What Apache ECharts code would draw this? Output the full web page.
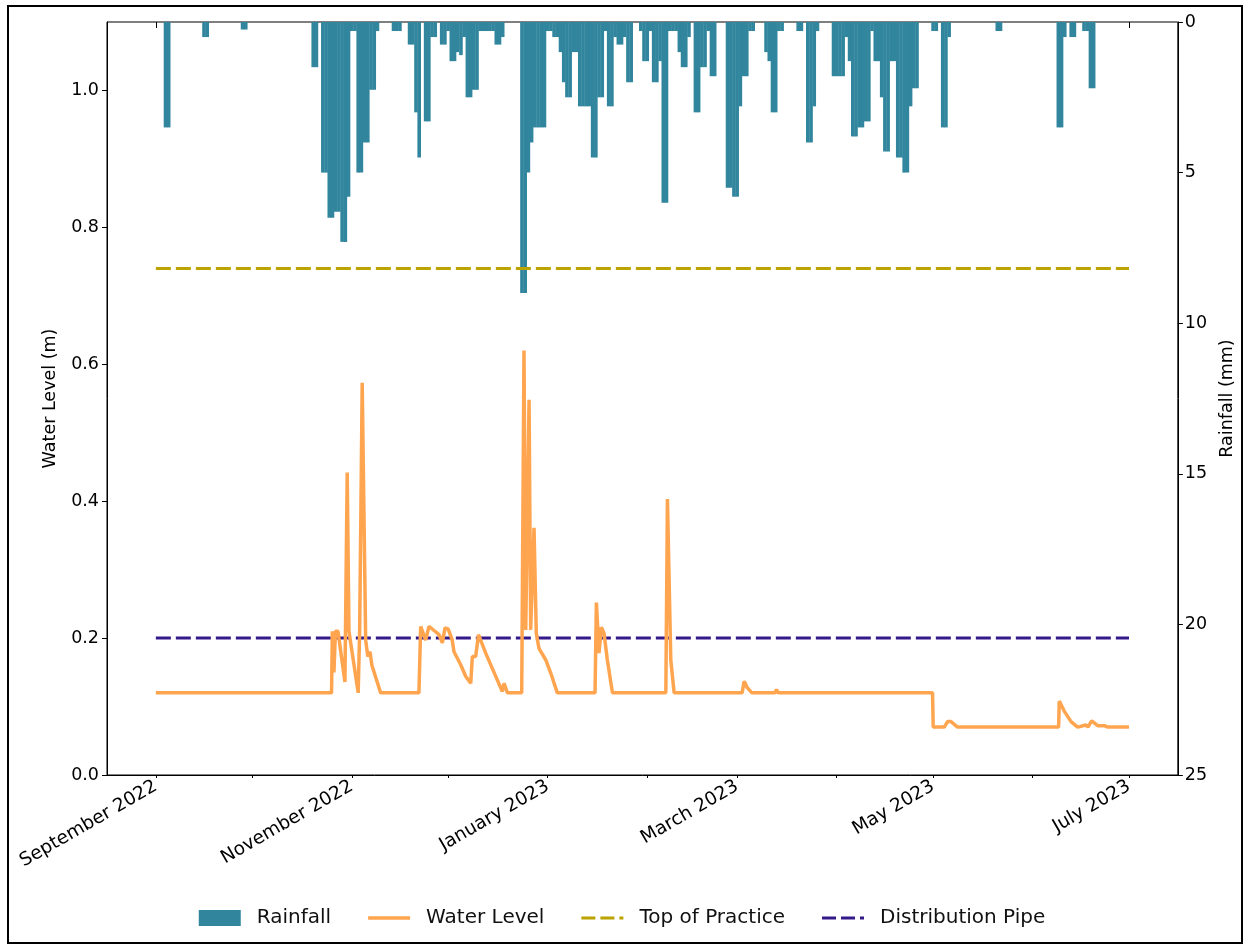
<!DOCTYPE html>
<html>
<head>
<meta charset="utf-8">
<script src="https://cdn.jsdelivr.net/npm/echarts@6/dist/echarts.min.js"></script>
<style>
  html, body { margin: 0; padding: 0; background: #fff; }
  #chart { width: 1244px; height: 945px; }
</style>
</head>
<body>
<div id="chart"></div>
<script>
// daily rainfall (mm), only the days with rain
const rainDates = [
  "2022-09-04", "2022-09-05", "2022-09-16", "2022-09-17", "2022-09-28", "2022-09-29",
  "2022-10-20", "2022-10-21", "2022-10-23", "2022-10-24", "2022-10-25", "2022-10-26",
  "2022-10-27", "2022-10-28", "2022-10-29", "2022-10-30", "2022-10-31",
  "2022-11-01", "2022-11-02", "2022-11-03", "2022-11-04", "2022-11-05", "2022-11-06",
  "2022-11-07", "2022-11-08", "2022-11-09", "2022-11-14", "2022-11-15", "2022-11-16",
  "2022-11-19", "2022-11-20", "2022-11-21", "2022-11-22", "2022-11-24", "2022-11-25",
  "2022-11-26", "2022-11-27", "2022-11-29", "2022-11-30",
  "2022-12-01", "2022-12-02", "2022-12-03", "2022-12-04", "2022-12-05", "2022-12-06",
  "2022-12-07", "2022-12-08", "2022-12-09", "2022-12-10", "2022-12-11", "2022-12-12",
  "2022-12-13", "2022-12-14", "2022-12-15", "2022-12-16", "2022-12-17", "2022-12-18",
  "2022-12-24", "2022-12-25", "2022-12-26", "2022-12-27", "2022-12-28", "2022-12-29",
  "2022-12-30", "2022-12-31",
  "2023-01-01", "2023-01-02", "2023-01-03", "2023-01-04", "2023-01-05", "2023-01-06",
  "2023-01-07", "2023-01-08", "2023-01-09", "2023-01-10", "2023-01-11", "2023-01-12",
  "2023-01-13", "2023-01-14", "2023-01-15", "2023-01-16", "2023-01-17", "2023-01-18",
  "2023-01-19", "2023-01-20", "2023-01-21", "2023-01-22", "2023-01-23", "2023-01-24",
  "2023-01-25", "2023-01-26", "2023-01-27", "2023-01-30", "2023-01-31",
  "2023-02-01", "2023-02-02", "2023-02-03", "2023-02-04", "2023-02-05", "2023-02-06",
  "2023-02-07", "2023-02-08", "2023-02-09", "2023-02-10", "2023-02-11", "2023-02-12",
  "2023-02-13", "2023-02-14", "2023-02-16", "2023-02-17", "2023-02-18", "2023-02-19",
  "2023-02-20", "2023-02-21", "2023-02-22", "2023-02-26", "2023-02-27", "2023-02-28",
  "2023-03-01", "2023-03-02", "2023-03-03", "2023-03-04", "2023-03-05", "2023-03-06",
  "2023-03-10", "2023-03-11", "2023-03-12", "2023-03-13", "2023-03-14", "2023-03-15",
  "2023-03-20", "2023-03-21", "2023-03-23", "2023-03-24", "2023-03-25", "2023-03-26",
  "2023-03-31",
  "2023-04-01", "2023-04-02", "2023-04-03", "2023-04-04", "2023-04-05", "2023-04-06",
  "2023-04-07", "2023-04-08", "2023-04-09", "2023-04-10", "2023-04-11", "2023-04-12",
  "2023-04-13", "2023-04-14", "2023-04-15", "2023-04-16", "2023-04-17", "2023-04-18",
  "2023-04-19", "2023-04-20", "2023-04-21", "2023-04-22", "2023-04-23", "2023-04-24",
  "2023-04-25", "2023-04-26",
  "2023-05-01", "2023-05-02", "2023-05-04", "2023-05-05", "2023-05-06", "2023-05-21",
  "2023-05-22",
  "2023-06-09", "2023-06-10", "2023-06-11", "2023-06-13", "2023-06-14", "2023-06-17",
  "2023-06-18", "2023-06-19", "2023-06-20"
];
const rainMm = [
  3.5, 3.5, 0.5, 0.5, 0.25, 0.25,
  1.5, 1.5, 5.0, 5.0, 6.5, 6.5,
  6.3, 6.3, 7.3, 7.3, 5.8,
  0.3, 0.3, 5.0, 5.0, 4.0, 4.0,
  2.25, 2.25, 0.3, 0.3, 0.3, 0.3,
  0.75, 0.75, 3.0, 4.5, 3.3, 3.3,
  0.5, 0.5, 0.75, 0.75,
  0.3, 1.3, 1.3, 1.0, 1.1, 0.5,
  2.5, 2.5, 2.25, 2.25, 0.3, 0.3,
  0.3, 0.3, 0.3, 0.75, 0.75, 0.5,
  9.0, 9.0, 5.0, 4.0, 3.5, 3.5,
  3.5, 3.5,
  0.3, 0.3, 0.5, 0.5, 1.0, 2.0,
  2.5, 2.5, 1.0, 1.0, 2.8, 2.8,
  2.8, 2.8, 4.5, 4.5, 2.5, 2.5,
  0.3, 2.8, 2.8, 0.5, 0.75, 0.75,
  0.5, 2.0, 2.0, 0.3, 1.3,
  1.3, 0.3, 2.0, 2.0, 1.3, 6.0,
  6.0, 0.3, 0.3, 0.3, 1.0, 1.5,
  1.5, 0.5, 3.0, 3.0, 1.5, 1.5,
  0.3, 1.8, 1.8, 5.5, 5.5, 5.8,
  5.8, 2.8, 1.8, 1.8, 0.3, 0.3,
  1.0, 1.3, 3.0, 3.0, 0.3, 0.3,
  0.3, 0.3, 4.0, 4.0, 2.8, 0.3,
  1.8,
  1.8, 1.8, 1.8, 0.5, 1.3, 3.8,
  3.8, 3.5, 3.5, 3.3, 3.3, 0.3,
  1.3, 1.3, 2.5, 4.3, 4.3, 1.3,
  1.3, 4.5, 4.5, 5.0, 5.0, 2.8,
  2.2, 2.2,
  0.3, 0.3, 3.5, 3.5, 0.5, 0.3,
  0.3,
  3.5, 3.5, 0.5, 0.5, 0.5, 0.3,
  0.3, 2.2, 2.2
];

// water level (m)
const levelTimes = [
  "2022-09-01 00:00", "2022-10-25 17:00", "2022-10-25 23:00", "2022-10-26 11:00",
  "2022-10-26 22:00", "2022-10-27 17:00", "2022-10-29 21:00", "2022-10-30 14:00",
  "2022-10-31 03:00", "2022-11-03 00:00", "2022-11-03 11:00", "2022-11-04 06:00",
  "2022-11-05 08:00", "2022-11-06 00:00", "2022-11-06 16:00", "2022-11-07 07:00",
  "2022-11-10 00:00", "2022-11-21 22:00", "2022-11-22 11:00", "2022-11-24 00:00",
  "2022-11-25 01:00", "2022-11-26 22:00", "2022-11-28 04:00", "2022-11-29 05:00",
  "2022-11-30 01:00", "2022-12-01 01:00", "2022-12-02 07:00", "2022-12-02 20:00",
  "2022-12-04 22:00", "2022-12-06 12:00", "2022-12-08 01:00", "2022-12-08 13:00",
  "2022-12-09 14:00", "2022-12-10 11:00", "2022-12-12 17:00", "2022-12-15 20:00",
  "2022-12-17 21:00", "2022-12-18 10:00", "2022-12-19 11:00", "2022-12-23 22:00",
  "2022-12-24 15:00", "2022-12-25 04:00", "2022-12-26 05:00", "2022-12-26 17:00",
  "2022-12-27 18:00", "2022-12-28 11:00", "2022-12-29 07:00", "2022-12-31 10:00",
  "2023-01-01 23:00", "2023-01-04 00:00", "2023-01-15 18:00", "2023-01-16 04:00",
  "2023-01-17 00:00", "2023-01-17 17:00", "2023-01-18 13:00", "2023-01-19 14:00",
  "2023-01-21 04:00", "2023-02-06 19:00", "2023-02-07 07:00", "2023-02-08 08:00",
  "2023-02-09 09:00", "2023-03-02 13:00", "2023-03-03 04:00", "2023-03-04 02:00",
  "2023-03-05 14:00", "2023-03-12 19:00", "2023-03-13 06:00", "2023-03-13 19:00",
  "2023-04-30 20:00", "2023-05-01 01:00", "2023-05-04 12:00", "2023-05-05 12:00",
  "2023-05-06 14:00", "2023-05-08 15:00", "2023-06-09 02:00", "2023-06-09 07:00",
  "2023-06-10 21:00", "2023-06-12 23:00", "2023-06-15 00:00", "2023-06-17 15:00",
  "2023-06-18 05:00", "2023-06-19 09:00", "2023-06-21 06:00", "2023-06-23 08:00",
  "2023-06-24 09:00", "2023-07-01 00:00"
];
const levelValues = [
  0.12, 0.12, 0.21, 0.15,
  0.21, 0.21, 0.136, 0.442,
  0.21, 0.12, 0.21, 0.573,
  0.197, 0.173, 0.18, 0.16,
  0.12, 0.12, 0.217, 0.197,
  0.217, 0.21, 0.205, 0.193,
  0.215, 0.213, 0.197, 0.18,
  0.161, 0.144, 0.134, 0.173,
  0.173, 0.205, 0.178, 0.144,
  0.122, 0.134, 0.12, 0.12,
  0.62, 0.212, 0.548, 0.212,
  0.361, 0.207, 0.185, 0.168,
  0.149, 0.12, 0.12, 0.252,
  0.178, 0.216, 0.207, 0.168,
  0.12, 0.12, 0.403, 0.168,
  0.12, 0.12, 0.137, 0.128,
  0.12, 0.12, 0.125, 0.12,
  0.12, 0.07, 0.07, 0.078,
  0.078, 0.07, 0.07, 0.108,
  0.093, 0.078, 0.07, 0.073,
  0.07, 0.079, 0.072, 0.072,
  0.07, 0.07
];

const topOfPractice = 0.74;
const distributionPipe = 0.2;
const lineSpan = ["2022-09-01 00:00", "2023-07-01 00:00"];

const levelTicks = [0, 0.2, 0.4, 0.6, 0.8, 1.0];
const majorMonths = ["2022-09-01", "2022-11-01", "2023-01-01", "2023-03-01", "2023-05-01", "2023-07-01"];
const allMonths = ["2022-09-01", "2022-10-01", "2022-11-01", "2022-12-01", "2023-01-01", "2023-02-01",
  "2023-03-01", "2023-04-01", "2023-05-01", "2023-06-01", "2023-07-01"];
const monthNames = ["January", "February", "March", "April", "May", "June", "July",
  "August", "September", "October", "November", "December"];

const toTime = (s) => +new Date(s.length > 10 ? s.replace(" ", "T") + ":00" : s + "T00:00:00");
const xMin = toTime("2022-08-16 19:00");
const xMax = toTime("2023-07-16 05:00");

const FONT = "DejaVu Sans";
const INK = "#000";
const TICK_SIZE = 17.5;

// legend swatches: thin solid / dashed strokes inside a 42x16 box
const solidIcon = "path://M0,0L0.01,0M0,16L0.01,16M0,6.3H42V9.7H0Z";
const dashIcon = "path://M0,0L0.01,0M0,16L0.01,16M0,6.5H14V9.5H0ZM19,6.5H33V9.5H19ZM38,6.5H42V9.5H38Z";

const chart = echarts.init(document.getElementById("chart"));

const option = {
  animation: false,
  textStyle: { fontFamily: FONT },
  grid: {
    left: 107,
    right: 64,
    top: 22,
    bottom: 170,
    show: true,
    borderColor: INK,
    borderWidth: 1
  },
  graphic: [
    {
      type: "rect",
      shape: { x: 8, y: 6, width: 1234, height: 937 },
      style: { fill: "none", stroke: "#000", lineWidth: 2 },
      silent: true
    }
  ],
  legend: {
    bottom: 12,
    left: "center",
    itemWidth: 42,
    itemHeight: 16,
    itemGap: 37,
    textStyle: { fontFamily: FONT, fontSize: 20, color: "#111", padding: [0, 0, 0, 11] },
    data: [
      { name: "Rainfall", icon: "rect" },
      { name: "Water Level", icon: solidIcon },
      { name: "Top of Practice", icon: dashIcon },
      { name: "Distribution Pipe", icon: dashIcon }
    ]
  },
  xAxis: [
    {
      type: "value",
      min: xMin,
      max: xMax,
      axisLine: { show: true, lineStyle: { color: INK, width: 1 } },
      axisTick: {
        show: true,
        customValues: allMonths.map(toTime),
        length: 3,
        lineStyle: { color: INK }
      },
      axisLabel: {
        customValues: majorMonths.map(toTime),
        rotate: 30,
        margin: 10,
        fontSize: 18.5,
        color: INK,
        fontFamily: FONT,
        formatter: (v) => {
          const d = new Date(v);
          return monthNames[d.getMonth()] + " " + d.getFullYear();
        }
      },
      splitLine: { show: false }
    },
    {
      type: "value",
      min: xMin,
      max: xMax,
      position: "bottom",
      axisLine: { show: false },
      axisTick: {
        show: true,
        customValues: majorMonths.map(toTime),
        length: 6,
        lineStyle: { color: INK }
      },
      axisLabel: { show: false },
      splitLine: { show: false }
    }
  ],
  yAxis: [
    {
      type: "value",
      min: 0,
      max: 1.1,
      position: "left",
      name: "Water Level (m)",
      nameLocation: "middle",
      nameGap: 48,
      nameTextStyle: { fontSize: TICK_SIZE, color: INK, fontFamily: FONT },
      axisLine: { show: true, lineStyle: { color: INK } },
      axisTick: { show: true, customValues: levelTicks, length: 5, lineStyle: { color: INK } },
      axisLabel: {
        customValues: levelTicks,
        fontSize: TICK_SIZE,
        color: INK,
        fontFamily: FONT,
        margin: 8,
        formatter: (v) => v.toFixed(1)
      },
      splitLine: { show: false }
    },
    {
      type: "value",
      min: 0,
      max: 25,
      interval: 5,
      inverse: true,
      position: "right",
      name: "Rainfall (mm)",
      nameLocation: "middle",
      nameGap: 40,
      nameRotate: 90,
      nameTextStyle: { fontSize: TICK_SIZE, color: INK, fontFamily: FONT },
      axisLine: { show: true, lineStyle: { color: INK } },
      axisTick: { show: true, length: 5, lineStyle: { color: INK } },
      axisLabel: { fontSize: TICK_SIZE, color: INK, fontFamily: FONT, margin: 7 },
      splitLine: { show: false }
    }
  ],
  series: [
    {
      name: "Rainfall",
      type: "bar",
      xAxisIndex: 0,
      yAxisIndex: 1,
      barWidth: 3.6,
      itemStyle: { color: "#31869e" },
      data: rainDates.map((d, i) => [toTime(d), rainMm[i]]),
      z: 1
    },
    {
      name: "Water Level",
      type: "line",
      xAxisIndex: 0,
      yAxisIndex: 0,
      symbol: "none",
      lineStyle: { color: "#ffa54f", width: 3.5 },
      itemStyle: { color: "#ffa54f" },
      data: levelTimes.map((t, i) => [toTime(t), levelValues[i]]),
      z: 3
    },
    {
      name: "Top of Practice",
      type: "line",
      xAxisIndex: 0,
      yAxisIndex: 0,
      symbol: "none",
      lineStyle: { color: "#bba300", width: 3, type: [15, 5] },
      itemStyle: { color: "#bba300" },
      data: lineSpan.map((d) => [toTime(d), topOfPractice]),
      z: 2
    },
    {
      name: "Distribution Pipe",
      type: "line",
      xAxisIndex: 0,
      yAxisIndex: 0,
      symbol: "none",
      lineStyle: { color: "#35198a", width: 3, type: [15, 5] },
      itemStyle: { color: "#35198a" },
      data: lineSpan.map((d) => [toTime(d), distributionPipe]),
      z: 2
    }
  ]
};

chart.setOption(option);
</script>
</body>
</html>
